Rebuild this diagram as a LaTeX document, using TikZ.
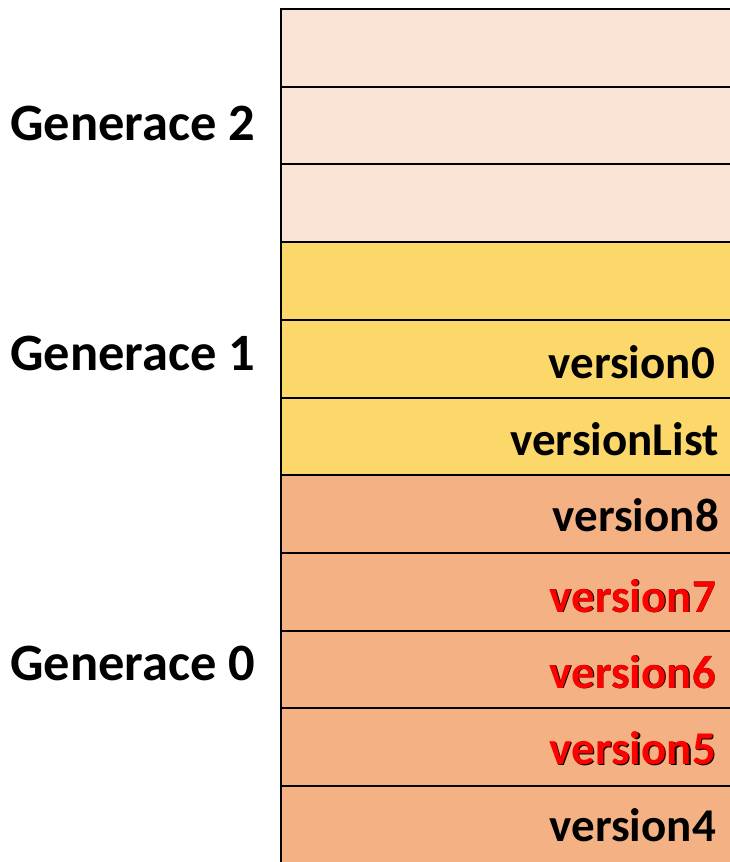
\documentclass[tikz,border=0pt]{standalone}
\usepackage{fontspec}
\setmainfont{Carlito}
\definecolor{genTwo}{HTML}{FAE4D6}
\definecolor{genOne}{HTML}{FCD76A}
\definecolor{genZero}{HTML}{F4B184}
\definecolor{redtxt}{HTML}{FF0000}
\tikzset{
  lbl/.style={font=\fontsize{47}{47}\selectfont\bfseries, anchor=base east, inner sep=0pt},
  gen/.style={font=\fontsize{52.5}{52.5}\selectfont\bfseries, anchor=base west, inner sep=0pt},
}
\begin{document}
\begin{tikzpicture}[x=1pt,y=-1pt]
\useasboundingbox (0,0) rectangle (730,862);
\def\rh{77.7}
% fills
\foreach \i/\c in {0/genTwo,1/genTwo,2/genTwo,3/genOne,4/genOne,5/genOne,6/genZero,7/genZero,8/genZero,9/genZero,10/genZero}{
  \fill[\c] (281,{9+\i*\rh}) rectangle (740,{9+(\i+1)*\rh});
}
% horizontal lines
\foreach \i in {1,...,10}{
  \draw[line width=2pt] (281,{9+\i*\rh}) -- (740,{9+\i*\rh});
}
\draw[line width=2.8pt] (740,9) -- (281,9) -- (281,870);
% labels
\node[gen] (g2) at (10,140) {Generace 2};
\node[gen] (g1) at (10,370) {Generace 1};
\node[gen] (g0) at (10,680) {Generace 0};
\node[lbl] (v0) at (715,378) {version0};
\node[lbl] (vl) at (719,455) {versionList};
\node[lbl] (v8) at (719,531) {version8};
\node[lbl, text=black] at (716.8,612.8) {version7};
\node[lbl, text=redtxt] (v7) at (716,612) {version7};
\node[lbl, text=black] at (716.8,688.8) {version6};
\node[lbl, text=redtxt] (v6) at (716,688) {version6};
\node[lbl, text=black] at (717.3,765.3) {version5};
\node[lbl, text=redtxt] (v5) at (716,764) {version5};
\node[lbl] (v4) at (716,841) {version4};
\end{tikzpicture}
\end{document}
